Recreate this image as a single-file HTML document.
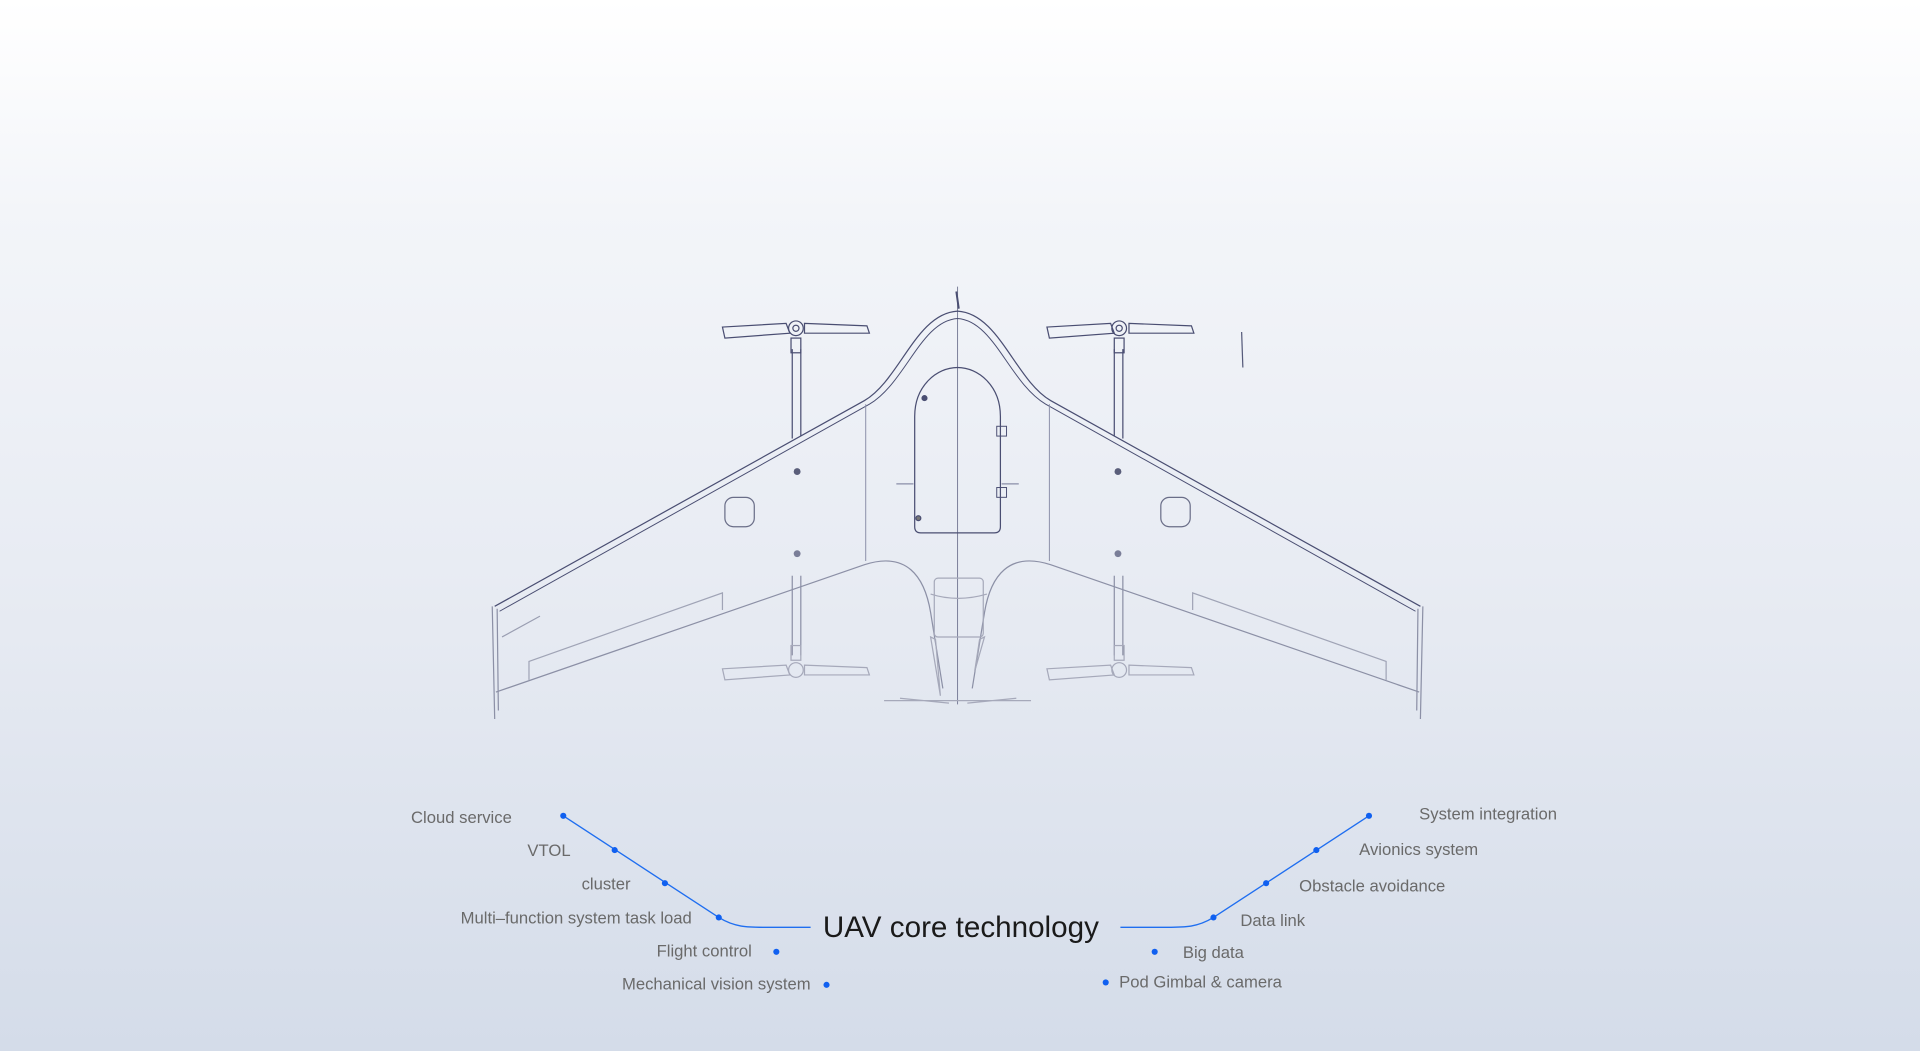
<!DOCTYPE html>
<html><head><meta charset="utf-8"><style>
html,body{margin:0;padding:0;width:1920px;height:1051px;overflow:hidden;background:linear-gradient(180deg,#ffffff 0%,#f3f5f9 20%,#e6eaf2 60%,#d4dce9 100%);}
svg{display:block}
text{font-family:"Liberation Sans",sans-serif;fill:#6a6a6a;font-size:13.6px}
</style></head><body>
<svg width="1920" height="1051" viewBox="0 0 1568 858" preserveAspectRatio="none">
<g fill="none" stroke="#4a4e72" stroke-width="1">
 <line x1="782" y1="234" x2="782" y2="575" stroke="#7a7e98" stroke-width="0.8"/>
 <line x1="781" y1="238" x2="783" y2="252" stroke-width="1.6"/>
 <path d="M404,495 L706,327 C735,310 748,256 782,254 C816,256 829,310 858,327 L1160,495"/>
 <path d="M408,499 L710,330 C740,312 752,262 782,260 C812,262 824,312 854,330 L1156,499" stroke-width="0.8"/>
 <line x1="647" y1="285" x2="647" y2="358"/><line x1="654" y1="285" x2="654" y2="356"/>
 <line x1="910" y1="285" x2="910" y2="356"/><line x1="917" y1="285" x2="917" y2="358"/>
 <path d="M590,267 L642,264 L645,272 L592,276 Z"/><path d="M657,264 L708,266 L710,272 L657,272 Z"/>
 <circle cx="650" cy="268" r="6"/><circle cx="650" cy="268" r="2.5"/><rect x="646" y="276" width="8" height="12"/>
 <path d="M855,267 L907,264 L910,272 L857,276 Z"/><path d="M922,264 L973,266 L975,272 L922,272 Z"/>
 <circle cx="914" cy="268" r="6"/><circle cx="914" cy="268" r="2.5"/><rect x="910" y="276" width="8" height="12"/>
 <path d="M747,430 L747,340 C747,315 765,300 782,300 C799,300 817,315 817,340 L817,430 Q817,435 812,435 L752,435 Q747,435 747,430 Z"/>
 <rect x="814" y="348" width="8" height="8" stroke-width="0.8"/><rect x="814" y="398" width="8" height="8" stroke-width="0.8"/>
 <line x1="732" y1="395" x2="746" y2="395" stroke="#8a8ea8"/><line x1="818" y1="395" x2="832" y2="395" stroke="#8a8ea8"/>
 <circle cx="755" cy="325" r="2" fill="#4a4e72"/><circle cx="750" cy="423" r="2" fill="#777"/>
 <line x1="707" y1="330" x2="707" y2="458" stroke="#8a8ea8" stroke-width="0.8"/>
 <line x1="857" y1="330" x2="857" y2="458" stroke="#8a8ea8" stroke-width="0.8"/>
 <rect x="592" y="406" width="24" height="24" rx="7" stroke="#6a6e88"/>
 <rect x="948" y="406" width="24" height="24" rx="7" stroke="#6a6e88"/>
</g>
<g fill="#5a5e7a"><circle cx="651" cy="385" r="2.8"/><circle cx="913" cy="385" r="2.8"/><circle cx="651" cy="452" r="2.8" fill="#7a7e98"/><circle cx="913" cy="452" r="2.8" fill="#7a7e98"/></g>
<g fill="none" stroke="#8c90a6" stroke-width="1">
 <path d="M405,565 L706,461 C740,450 755,470 760,500 L770,562"/>
 <path d="M1159,565 L858,461 C824,450 809,470 804,500 L794,562"/>
 <path d="M402,495 L404,587 M406,497 L407,580"/>
 <path d="M1162,495 L1160,587 M1158,497 L1157,580"/>
 <line x1="410" y1="520" x2="441" y2="503" stroke="#9a9eb2"/>
 <polyline points="432,555 432,540 590,484 590,498" stroke="#a0a4b6"/>
 <polyline points="1132,555 1132,540 974,484 974,498" stroke="#a0a4b6"/>
 <line x1="647" y1="470" x2="647" y2="535"/><line x1="654" y1="470" x2="654" y2="535"/>
 <line x1="910" y1="470" x2="910" y2="535"/><line x1="917" y1="470" x2="917" y2="535"/>
 <g stroke="#a6a9ba">
 <path d="M590,546 L642,543 L645,551 L592,555 Z"/><path d="M657,543 L708,545 L710,551 L657,551 Z"/>
 <circle cx="650" cy="547" r="6"/><rect x="646" y="527" width="8" height="12"/>
 <path d="M855,546 L907,543 L910,551 L857,555 Z"/><path d="M922,543 L973,545 L975,551 L922,551 Z"/>
 <circle cx="914" cy="547" r="6"/><rect x="910" y="527" width="8" height="12"/>
 <rect x="763" y="472" width="40" height="48" rx="3"/>
 <path d="M760,485 Q782,492 806,485"/>
 <path d="M760,520 L768,568 L764,522 Z M804,520 L796,548 L800,522 Z"/>
 <path d="M722,572 L842,572 M735,570 L775,574 M790,574 L830,570"/>
 </g>
 <line x1="1014" y1="271" x2="1015" y2="300" stroke="#555a7a"/>
</g>
<g fill="none" stroke="#1f6ef0" stroke-width="1.1">
 <path d="M460,666 L587,749 C600,757 610,757 625,757 L662,757"/>
 <path d="M1118,666 L991,749 C978,757 968,757 953,757 L915,757"/>
</g>
<g fill="#1060f0">
 <circle cx="460" cy="666" r="2.5"/><circle cx="502" cy="694" r="2.5"/><circle cx="543" cy="721" r="2.5"/><circle cx="587" cy="749" r="2.5"/>
 <circle cx="634" cy="777" r="2.5"/><circle cx="675" cy="804" r="2.5"/>
 <circle cx="1118" cy="666" r="2.5"/><circle cx="1075" cy="694" r="2.5"/><circle cx="1034" cy="721" r="2.5"/><circle cx="991" cy="749" r="2.5"/>
 <circle cx="943" cy="777" r="2.5"/><circle cx="903" cy="802" r="2.5"/>
</g>
<g text-anchor="end">
 <text x="418" y="672">Cloud service</text>
 <text x="466" y="699">VTOL</text>
 <text x="515" y="726">cluster</text>
 <text x="565" y="754">Multi–function system task load</text>
 <text x="614" y="781">Flight control</text>
 <text x="662" y="808">Mechanical vision system</text>
</g>
<text x="1159" y="669">System integration</text>
<text x="1110" y="698">Avionics system</text>
<text x="1061" y="728">Obstacle avoidance</text>
<text x="1013" y="756">Data link</text>
<text x="966" y="782">Big data</text>
<text x="914" y="806">Pod Gimbal &amp; camera</text>
<text x="672" y="765" style="font-size:24.2px;fill:#1a1a1a">UAV core technology</text>
</svg>
</body></html>
